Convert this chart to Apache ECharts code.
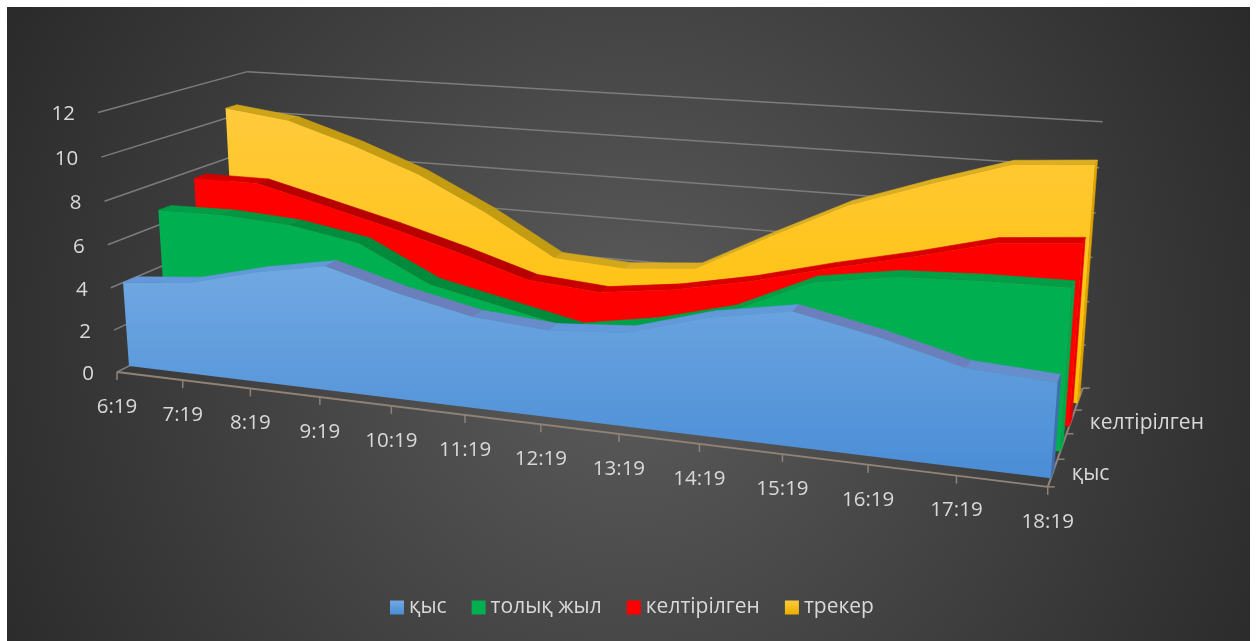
<!DOCTYPE html>
<html>
<head>
<meta charset="utf-8">
<style>html,body{margin:0;padding:0;background:#fff}#chart{width:1257px;height:641px}</style>
<script src="https://cdn.jsdelivr.net/npm/echarts@6/dist/echarts.min.js"></script>
</head>
<body>
<div id="chart"></div>
<script>
// Chart data
const hours = ['6:19','7:19','8:19','9:19','10:19','11:19','12:19','13:19','14:19','15:19','16:19','17:19','18:19'];
const qys = [4.0,4.3,5.1,5.7,4.8,4.1,3.85,4.1,5.1,5.7,5.0,4.1,3.9];
const tolyqZhyl = [6.7,6.75,6.55,6.0,4.4,3.7,3.0,3.6,4.5,6.1,6.65,6.8,6.85];
const keltirilgen = [7.6,7.6,6.8,6.0,5.1,4.1,3.85,4.3,5.0,5.9,6.7,7.6,7.9];
const treker = [10.5,10.1,9.1,7.9,6.3,4.4,4.2,4.5,6.3,8.0,9.2,10.3,10.55];
const yTicks = [0,2,4,6,8,10,12];
const depthLabels = ['қыс','келтірілген'];

// Oblique 3D frame: pixel origin, per-axis vanishing points and foreshortening
const origin = [117, 372];
const vanishX = [-4631, -214], fadeX = -0.1639;
const vanishY = [595, 6907],   fadeY = -0.0382;
const vanishZ = [1296, -215],  fadeZ = 0.1369;
// Each series occupies a 0.25 slot in depth
const slotDepth = 0.25, bodyDepth = 0.085, frontGap = 0.075;

function project(s, v, d) {
  const w = 1 + fadeX * s + fadeY * v + fadeZ * d;
  return [
    (origin[0] + fadeX * vanishX[0] * s + fadeY * vanishY[0] * v + fadeZ * vanishZ[0] * d) / w,
    (origin[1] + fadeX * vanishX[1] * s + fadeY * vanishY[1] * v + fadeZ * vanishZ[1] * d) / w
  ];
}
// Library axis scales give the normalised position along each chart axis
function unit(params, api, i, val) {
  const c = params.coordSys, p = api.coord([i, val]);
  return [(p[0] - c.x) / c.width, (c.y + c.height - p[1]) / c.height];
}

const textColor = '#d9d9d9', fontFamily = '"Open Sans", sans-serif', axisColor = '#8f8377', gridColor = '#7c7c7c';

function vGrad(top, bottom) {
  return new echarts.graphic.LinearGradient(0, 0, 0, 1, [{offset: 0, color: top}, {offset: 1, color: bottom}]);
}

// The top surface darkens where it falls away towards the viewer
function renderArea(values, slot, frontFill, lipFlat, lipSteep, sideColor) {
  return function (params, api) {
    if (params.dataIndex !== 0) return null;
    const d0 = slot * slotDepth + frontGap, d1 = d0 + bodyDepth;
    const pts = values.map((v, i) => unit(params, api, i, v));
    const last = pts.length - 1;
    const kids = [];
    for (let i = 0; i < last; i++) {
      const a = project(pts[i][0], pts[i][1], d0), b = project(pts[i + 1][0], pts[i + 1][1], d0);
      const slope = (b[1] - a[1]) / (b[0] - a[0]);
      const shade = Math.max(0, Math.min(1, (slope - 0.05) / 0.25));
      const lip = echarts.color.lerp(shade, [lipFlat, lipSteep]);
      kids.push({type: 'polygon', shape: {points: [
        a, b, project(pts[i + 1][0], pts[i + 1][1], d1), project(pts[i][0], pts[i][1], d1)
      ]}, style: {fill: lip, stroke: lip, lineWidth: 0.6}});
    }
    // right-hand end wall
    const sEnd = pts[last][0], vEnd = pts[last][1];
    kids.push({type: 'polygon', shape: {points: [
      project(sEnd, 0, d0), project(sEnd, vEnd, d0), project(sEnd, vEnd, d1), project(sEnd, 0, d1)
    ]}, style: {fill: sideColor, stroke: sideColor, lineWidth: 0.6}});
    // front face
    const outline = [project(pts[0][0], 0, d0)]
      .concat(pts.map(p => project(p[0], p[1], d0)))
      .concat([project(sEnd, 0, d0)]);
    kids.push({type: 'polygon', shape: {points: outline}, style: {fill: frontFill}});
    return {type: 'group', children: kids};
  };
}

function seg(a, b, color, width) {
  return {type: 'line', shape: {x1: a[0], y1: a[1], x2: b[0], y2: b[1]}, style: {stroke: color, lineWidth: width}};
}
function label(text, x, y, align, size) {
  return {type: 'text', style: {text, x, y, align, verticalAlign: 'middle', fill: textColor, fontFamily, fontSize: size}};
}

// Walls, axis lines, ticks and axis text
function renderFrame(params, api) {
  if (params.dataIndex !== 0) return null;
  const kids = [];
  yTicks.forEach(t => {
    const v = unit(params, api, 0, t)[1];
    const front = project(0, v, 0), back = project(0, v, 1), right = project(1, v, 1);
    kids.push(seg(front, back, gridColor, 1.5));
    if (t > 0) kids.push(seg(back, right, gridColor, 1.5));
    kids.push(label(String(t), front[0] - 23, front[1] + 2, 'right', 20.5));
  });
  const s0 = unit(params, api, 0, 0)[0], s1 = unit(params, api, hours.length - 1, 0)[0];
  kids.push(seg(project(s0, 0, 0), project(s1, 0, 0), axisColor, 2));
  kids.push(seg(project(s1, 0, 0), project(s1, 0, 1), axisColor, 2));
  hours.forEach((h, i) => {
    const p = project(unit(params, api, i, 0)[0], 0, 0);
    kids.push(seg(p, [p[0], p[1] + 8], axisColor, 1.5));
    kids.push(label(h, p[0], p[1] + 35, 'center', 20.5));
  });
  for (let k = 0; k <= 4; k++) {
    const p = project(s1, 0, k * slotDepth);
    kids.push(seg(p, [p[0] + 7, p[1]], axisColor, 1.5));
  }
  depthLabels.forEach((t, k) => {
    const p = project(s1, 0, (2 * k + 0.5) * slotDepth);
    kids.push(label(t, p[0] + 19, p[1] + 1, 'left', 21));
  });
  return {type: 'group', children: kids};
}

const rows = values => values.map((v, i) => [i, v]);
const blueFill = vGrad('#71a8e2', '#4a8dd6');
const yellowFill = vGrad('#ffca3c', '#ffc000');

const chart = echarts.init(document.getElementById('chart'), null, {renderer: 'canvas'});
chart.setOption({
  animation: false,
  backgroundColor: '#ffffff',
  graphic: [{
    type: 'rect', z: -10, silent: true,
    shape: {x: 7, y: 7, width: 1243, height: 634},
    style: {fill: new echarts.graphic.RadialGradient(0.5, 0.54, 1.12, [
      {offset: 0, color: '#5c5c5c'}, {offset: 1, color: '#2a2a2a'}
    ])}
  }],
  grid: {left: 0, right: 0, top: 0, bottom: 0, show: false},
  xAxis: {type: 'category', data: hours, boundaryGap: false, show: false},
  yAxis: {type: 'value', min: 0, max: 12, interval: 2, show: false},
  legend: {
    top: 592, left: 385, icon: 'rect', itemWidth: 14, itemHeight: 14, itemGap: 25,
    textStyle: {color: textColor, fontFamily, fontSize: 21},
    data: [
      {name: 'қыс', itemStyle: {color: vGrad('#71a8e2', '#4a8dd6')}},
      {name: 'толық жыл', itemStyle: {color: '#00b050'}},
      {name: 'келтірілген', itemStyle: {color: '#ff0000'}},
      {name: 'трекер', itemStyle: {color: vGrad('#ffca3c', '#e8b000')}}
    ]
  },
  series: [
    {type: 'custom', z: 1, silent: true, data: [[0, 0]], encode: {x: 0, y: 1}, renderItem: renderFrame},
    {type: 'custom', name: 'трекер', z: 2, data: rows(treker), encode: {x: 0, y: 1}, itemStyle: {color: '#ffc000'},
     renderItem: renderArea(treker, 3, yellowFill, '#dcae22', '#c49c12', '#e0a400')},
    {type: 'custom', name: 'келтірілген', z: 3, data: rows(keltirilgen), encode: {x: 0, y: 1}, itemStyle: {color: '#ff0000'},
     renderItem: renderArea(keltirilgen, 2, '#ff0000', '#d80000', '#b80000', '#e80000')},
    {type: 'custom', name: 'толық жыл', z: 4, data: rows(tolyqZhyl), encode: {x: 0, y: 1}, itemStyle: {color: '#00b050'},
     renderItem: renderArea(tolyqZhyl, 1, '#00b050', '#00a047', '#008a3c', '#00a84a')},
    {type: 'custom', name: 'қыс', z: 5, data: rows(qys), encode: {x: 0, y: 1}, itemStyle: {color: '#5b9bd5'},
     renderItem: renderArea(qys, 0, blueFill, '#6398da', '#6c7fbd', '#3f6fae')}
  ]
});
</script>
</body>
</html>
